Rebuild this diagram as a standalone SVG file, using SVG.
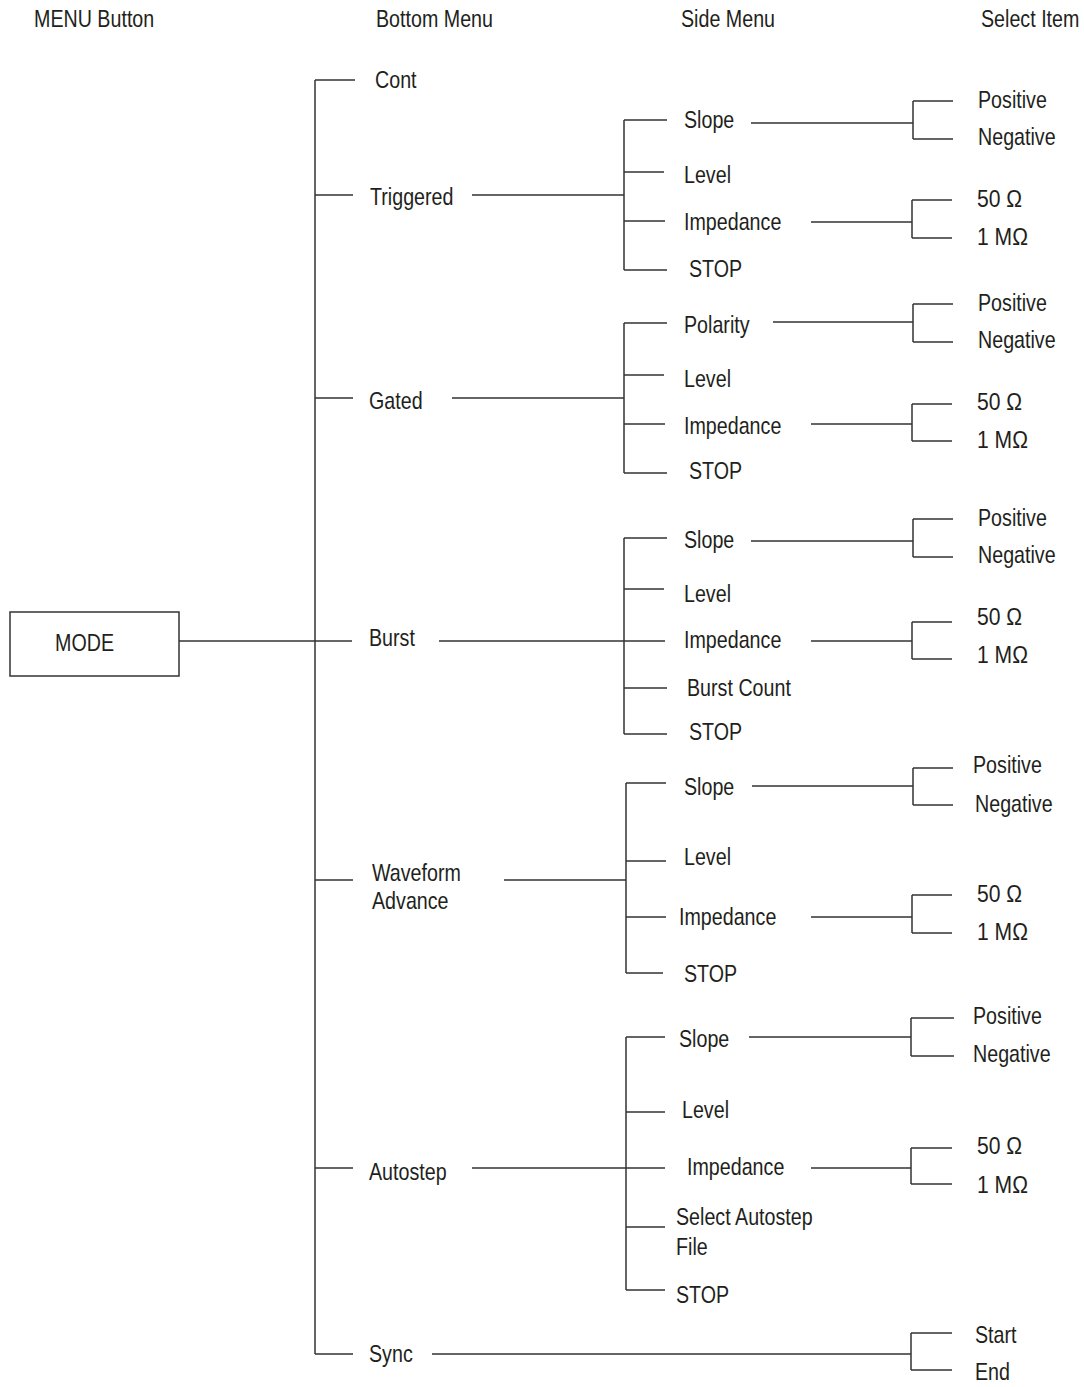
<svg xmlns="http://www.w3.org/2000/svg" width="1084" height="1387" viewBox="0 0 1084 1387">
<style>
text{font-family:"Liberation Sans",Arial,sans-serif;font-size:24px;fill:#231f20;transform-box:fill-box;transform-origin:0 0;transform:scaleX(0.82)}
.om{transform:scaleX(0.88)}
.ln{stroke:#333;stroke-width:1.5;fill:none}
.main{stroke:#666;stroke-width:2;fill:none}
.box{fill:#fff;stroke:#333;stroke-width:1.5}
</style>
<rect width="1084" height="1387" fill="#fff"/>
<g id="headers">
<text x="34" y="27">MENU Button</text>
<text x="376" y="27">Bottom Menu</text>
<text x="681" y="27">Side Menu</text>
<text x="981" y="27">Select Item</text>
</g>
<g id="connectors">
<path class="main" d="M315,80V1354"/>
<path class="ln" d="M179,641H352"/>
<path class="ln" d="M315,80H355M315,195H353M315,398H353M315,880H353M315,1168H353M315,1354H353"/>
<!-- Triggered -->
<path class="ln" d="M472,195H624M624,120V270M624,120H667M624,172H664M624,221H665M624,270H667"/>
<path class="ln" d="M751,123H913M913,101V139M913,101H953M913,139H953"/>
<path class="ln" d="M811,222H912M912,200V238M912,200H952M912,238H952"/>
<!-- Gated -->
<path class="ln" d="M452,398H624M624,323V473M624,323H667M624,375H664M624,424H665M624,473H667"/>
<path class="ln" d="M773,322H913M913,304V342M913,304H953M913,342H953"/>
<path class="ln" d="M811,424H912M912,404V441M912,404H952M912,441H952"/>
<!-- Burst -->
<path class="ln" d="M439,641H624M624,538V734M624,538H667M624,589H664M624,641H665M624,688H667M624,734H667"/>
<path class="ln" d="M751,541H913M913,519V557M913,519H953M913,557H953"/>
<path class="ln" d="M811,641H912M912,622V659M912,622H952M912,659H952"/>
<!-- Waveform Advance -->
<path class="ln" d="M504,880H626M626,783V973M626,783H666M626,861H666M626,917H666M626,973H663"/>
<path class="ln" d="M752,786H913M913,768V805M913,768H953M913,805H953"/>
<path class="ln" d="M811,917H912M912,895V933M912,895H952M912,933H952"/>
<!-- Autostep -->
<path class="ln" d="M472,1168H626M626,1037V1290M626,1037H665M626,1112H665M626,1168H665M626,1227H665M626,1290H665"/>
<path class="ln" d="M749,1037H911M911,1018V1056M911,1018H954M911,1056H954"/>
<path class="ln" d="M811,1168H911M911,1148V1184M911,1148H952M911,1184H952"/>
<!-- Sync -->
<path class="ln" d="M432,1354H911M911,1333V1370M911,1333H952M911,1370H952"/>
</g>
<g id="mode"><rect class="box" x="10" y="612" width="169" height="64"/><text x="55" y="651">MODE</text></g>
<g id="cont"><text x="375" y="88">Cont</text></g>
<g id="triggered">
<text x="370" y="205">Triggered</text>
<text x="684" y="128">Slope</text>
<text x="684" y="183">Level</text>
<text x="684" y="230">Impedance</text>
<text x="689" y="277">STOP</text>
<text x="978" y="108">Positive</text>
<text x="978" y="145">Negative</text>
<text class="om" x="977" y="207">50 Ω</text>
<text class="om" x="977" y="245">1 MΩ</text>
</g>
<g id="gated">
<text x="369" y="409">Gated</text>
<text x="684" y="333">Polarity</text>
<text x="684" y="387">Level</text>
<text x="684" y="434">Impedance</text>
<text x="689" y="479">STOP</text>
<text x="978" y="311">Positive</text>
<text x="978" y="348">Negative</text>
<text class="om" x="977" y="410">50 Ω</text>
<text class="om" x="977" y="448">1 MΩ</text>
</g>
<g id="burst">
<text x="369" y="646">Burst</text>
<text x="684" y="548">Slope</text>
<text x="684" y="602">Level</text>
<text x="684" y="648">Impedance</text>
<text x="687" y="696">Burst Count</text>
<text x="689" y="740">STOP</text>
<text x="978" y="526">Positive</text>
<text x="978" y="563">Negative</text>
<text class="om" x="977" y="625">50 Ω</text>
<text class="om" x="977" y="663">1 MΩ</text>
</g>
<g id="waveform-advance">
<text x="372" y="881">Waveform</text>
<text x="372" y="909">Advance</text>
<text x="684" y="795">Slope</text>
<text x="684" y="865">Level</text>
<text x="679" y="925">Impedance</text>
<text x="684" y="982">STOP</text>
<text x="973" y="773">Positive</text>
<text x="975" y="812">Negative</text>
<text class="om" x="977" y="902">50 Ω</text>
<text class="om" x="977" y="940">1 MΩ</text>
</g>
<g id="autostep">
<text x="369" y="1180">Autostep</text>
<text x="679" y="1047">Slope</text>
<text x="682" y="1118">Level</text>
<text x="687" y="1175">Impedance</text>
<text x="676" y="1225">Select Autostep</text>
<text x="676" y="1255">File</text>
<text x="676" y="1303">STOP</text>
<text x="973" y="1024">Positive</text>
<text x="973" y="1062">Negative</text>
<text class="om" x="977" y="1154">50 Ω</text>
<text class="om" x="977" y="1193">1 MΩ</text>
</g>
<g id="sync">
<text x="369" y="1362">Sync</text>
<text x="975" y="1343">Start</text>
<text x="975" y="1380">End</text>
</g>
</svg>
